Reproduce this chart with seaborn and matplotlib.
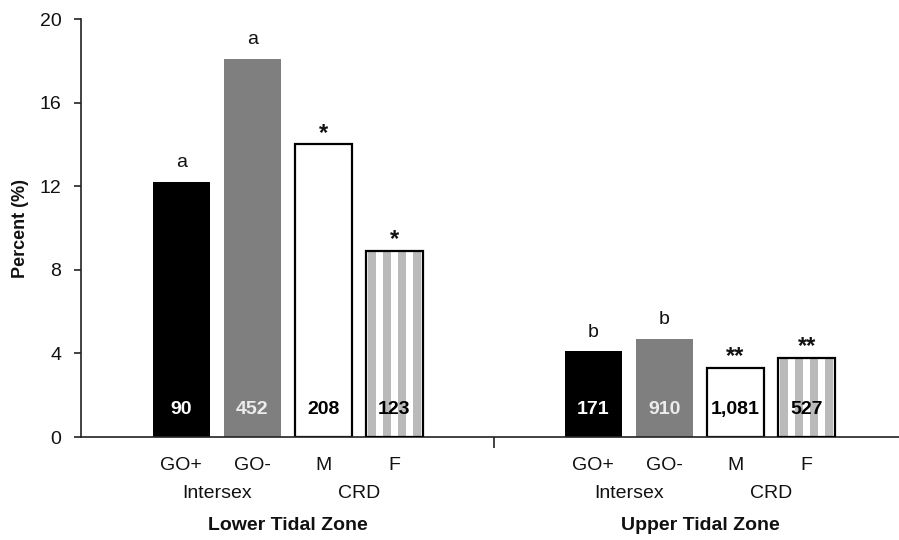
import matplotlib
matplotlib.use("Agg")
import matplotlib.pyplot as plt
import seaborn as sns
import pandas as pd
from matplotlib.patches import Rectangle

# ---- data ----
zones = ["Lower Tidal Zone", "Upper Tidal Zone"]
categories = ["GO+", "GO-", "M", "F"]
groups = ["Intersex", "CRD"]
lower_percent = [12.2, 18.1, 14.0, 8.9]
upper_percent = [4.1, 4.7, 3.3, 3.8]
lower_counts = ["90", "452", "208", "123"]
upper_counts = ["171", "910", "1,081", "527"]
lower_marks = ["a", "a", "*", "*"]
upper_marks = ["b", "b", "**", "**"]
y_ticks = [0, 4, 8, 12, 16, 20]

# ---- layout of bar slots ----
zone_offset = 5.8
pos = [i for i in range(4)] + [zone_offset + i for i in range(4)]
df = pd.DataFrame({
    "pos": pos,
    "category": categories * 2,
    "zone": [zones[0]] * 4 + [zones[1]] * 4,
    "percent": lower_percent + upper_percent,
    "count": lower_counts + upper_counts,
    "mark": lower_marks + upper_marks,
})

sns.set_theme(style="ticks")
plt.rcParams["font.family"] = ["Liberation Sans", "DejaVu Sans"]

fig = plt.figure(figsize=(8.99, 5.40), dpi=100)
ax = fig.add_axes([0.090, 0.1907, 0.910, 0.7741])

palette = {"GO+": "#000000", "GO-": "#7f7f7f", "M": "#ffffff", "F": "#ffffff"}
sns.barplot(data=df, x="pos", y="percent", hue="category", palette=palette,
            native_scale=True, dodge=False, legend=False, width=0.8,
            saturation=1, linewidth=0, ax=ax)

# vertical stripe fill for the F bars: fractions of the bar width
stripe_starts = [0.04, 0.30, 0.56, 0.83]
stripe_frac = 0.14

bars = sorted([p for p in ax.patches if isinstance(p, Rectangle) and p.get_height() > 0],
              key=lambda p: p.get_x())
for bar, cat in zip(bars, df["category"]):
    if cat == "M":
        bar.set_edgecolor("black")
        bar.set_linewidth(1.6)
    elif cat == "F":
        x0, w, h = bar.get_x(), bar.get_width(), bar.get_height()
        for s in stripe_starts:
            ax.add_patch(Rectangle((x0 + s * w, 0), stripe_frac * w, h,
                                   facecolor="#bababa", edgecolor="none", zorder=2.5))
        ax.add_patch(Rectangle(bar.get_xy(), w, h, fill=False,
                               edgecolor="black", linewidth=1.6, zorder=3))

# value labels inside the bars and significance marks above
for bar, row in zip(bars, df.itertuples()):
    cx = bar.get_x() + bar.get_width() / 2
    if row.category == "GO+":
        txt_color = "white"
    elif row.category == "GO-":
        txt_color = "#ececec"
    else:
        txt_color = "black"
    ax.annotate(row.count, (cx, 0), xytext=(0, 20), textcoords="offset points",
                ha="center", va="center", fontsize=14, fontweight="bold",
                color=txt_color, zorder=4)
    if "*" in row.mark:
        ax.annotate(row.mark, (cx, row.percent), xytext=(0, 3.5), textcoords="offset points",
                    ha="center", va="baseline", fontsize=17, fontweight="bold", color="#111111")
    else:
        ax.annotate(row.mark, (cx, row.percent), xytext=(0, 10.5), textcoords="offset points",
                    ha="center", va="baseline", fontsize=14, color="#111111")

# category tick labels
ax.set_xticks(pos)
ax.set_xticklabels(df["category"], fontsize=14, color="#111111")
ax.tick_params(axis="x", length=0, pad=14.5)
mid = (pos[3] + pos[4]) / 2
ax.set_xticks([mid], minor=True)
ax.tick_params(axis="x", which="minor", length=8, width=1.2, color="#222222")

# group and zone labels below
for z in range(2):
    zp = pos[4 * z:4 * z + 4]
    for g in range(2):
        gx = (zp[2 * g] + zp[2 * g + 1]) / 2
        ax.annotate(groups[g], (gx, 0), xycoords=("data", "axes fraction"),
                    xytext=(0, -41), textcoords="offset points",
                    ha="center", va="center", fontsize=14, color="#111111")
    ax.annotate(zones[z], ((zp[0] + zp[3]) / 2, 0), xycoords=("data", "axes fraction"),
                xytext=(0, -63.5), textcoords="offset points",
                ha="center", va="center", fontsize=14, fontweight="bold", color="#111111")

ax.set_xlim(-1.41, 10.1)
ax.set_ylim(0, 20)
ax.set_yticks(y_ticks)
ax.set_yticklabels([str(t) for t in y_ticks], fontsize=14, color="#111111")
ax.tick_params(axis="y", length=5, width=1.2, color="#222222", pad=9)
ax.set_xlabel("")
ax.set_ylabel("Percent (%)", fontsize=13, fontweight="bold", color="#111111")
ax.yaxis.set_label_coords(-0.064, 0.5)

sns.despine(ax=ax)
for s in ("left", "bottom"):
    ax.spines[s].set_linewidth(1.2)
    ax.spines[s].set_color("#222222")

fig.savefig("out.png", dpi=100, facecolor="white")
